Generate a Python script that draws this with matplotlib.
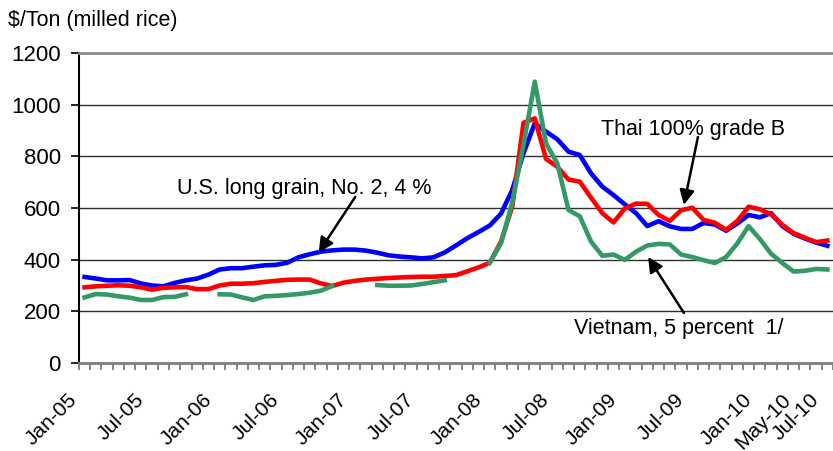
import numpy as np
import pandas as pd
import matplotlib
matplotlib.use('Agg')
import matplotlib.pyplot as plt
import matplotlib.transforms as mtransforms

# monthly rice export prices, $/ton, Jan-05 .. Jul-10
months = pd.date_range('2005-01-01', periods=67, freq='MS')

us_long_grain = [333, 327, 320, 320, 321, 308, 300, 297, 310, 320,
                 327, 342, 362, 367, 367, 373, 378, 380, 388, 409,
                 421, 431, 436, 439, 439, 435, 427, 417, 412, 409,
                 405, 409, 428, 455, 483, 507, 532, 578, 670, 812,
                 928, 896, 866, 818, 805, 734, 683, 650, 614, 580,
                 530, 549, 529, 519, 519, 542, 536, 512, 540, 573,
                 564, 580, 530, 500, 482, 466, 454]

thai_100b = [293, 297, 299, 301, 299, 293, 284, 291, 293, 294,
             286, 286, 300, 307, 307, 309, 314, 318, 322, 323,
             323, 308, 298, 311, 318, 323, 326, 329, 331, 333,
             334, 334, 337, 340, 355, 370, 388, 470, 605, 930,
             947, 790, 760, 710, 702, 640, 580, 544, 598, 617,
             616, 573, 550, 591, 601, 554, 543, 516, 550, 605,
             595, 575, 535, 503, 485, 468, 474]

nan = np.nan
vietnam_5 = [254, 267, 265, 258, 253, 244, 244, 255, 256, 266,
             nan, nan, 266, 265, 254, 244, 258, 260, 263, 267,
             272, 280, 298, nan, nan, nan, 302, 299, 299, 300,
             306, 313, 320, nan, nan, nan, 388, 463, 621, 845,
             1089, 850, 773, 592, 568, 470, 415, 420, 399, 431,
             455, 461, 459, 420, 410, 398, 387, 410, 463, 530,
             480, 423, 387, 354, 357, 364, 362]

tick_labels = ['Jan-05', 'Jul-05', 'Jan-06', 'Jul-06', 'Jan-07', 'Jul-07',
               'Jan-08', 'Jul-08', 'Jan-09', 'Jul-09', 'Jan-10', 'May-10', 'Jul-10']

plt.rcParams['font.family'] = ['Liberation Sans', 'DejaVu Sans']

fig = plt.figure(figsize=(8.33, 4.51), dpi=100)
ax = fig.add_axes([0.0948, 0.1951, 0.9052, 0.6874])

x = np.arange(len(months))
month_names = list(months.strftime('%b-%y'))
tick_pos = [month_names.index(t) for t in tick_labels]

lw = 3.3
ax.plot(x, us_long_grain, color='#0000FF', lw=lw, solid_joinstyle='round', zorder=3)
ax.plot(x, thai_100b, color='#FF0000', lw=lw, solid_joinstyle='round', zorder=4)
ax.plot(x, vietnam_5, color='#339966', lw=lw, solid_joinstyle='round', zorder=5)

ax.set_ylim(0, 1200)
ax.set_xlim(-0.5, 66.05)
ax.set_yticks(range(0, 1201, 200))
ax.yaxis.grid(True, color='#303030', lw=1.0)
ax.set_axisbelow(True)

ax.set_xticks(tick_pos, tick_labels)
ax.set_xticks(np.arange(-0.5, 67, 1), minor=True)
ax.tick_params(axis='x', which='major', length=0, pad=26, labelsize=15)
ax.tick_params(axis='x', which='minor', length=5, width=1.2, color='#707070', direction='out')
ax.tick_params(axis='y', length=6, width=1.2, pad=7, labelsize=16)
# shift rotated labels so their upper end sits left of the month, like Excel
for lab in ax.get_xticklabels():
    dx = -0.17 if lab.get_text() == 'May-10' else -0.11
    shift = mtransforms.ScaledTranslation(dx, 0.02, fig.dpi_scale_trans)
    lab.set_rotation(45)
    lab.set_ha('right')
    lab.set_va('center')
    lab.set_rotation_mode('anchor')
    lab.set_transform(lab.get_transform() + shift)

ax.spines['right'].set_visible(False)
ax.spines['top'].set_color('#8c8c8c')
ax.spines['top'].set_linewidth(2)
ax.spines['bottom'].set_color('#808080')
ax.spines['bottom'].set_linewidth(2)
ax.spines['left'].set_color('black')
ax.spines['left'].set_linewidth(1.5)

fig.text(0.0096, 0.955, r'\$/Ton (milled rice)', fontsize=15.5, va='center', ha='left')

arrow = dict(arrowstyle='-|>', color='black', lw=1.8, mutation_scale=22,
             shrinkA=0, shrinkB=0)
ax.annotate('', xy=(20.8, 428), xytext=(24.05, 643), arrowprops=arrow, zorder=6)
ax.text(8.24, 677, 'U.S. long grain, No. 2, 4 %', fontsize=15.5, ha='left', va='center')

ax.annotate('', xy=(53.25, 612), xytext=(54.5, 875), arrowprops=arrow, zorder=6)
ax.text(45.92, 902, 'Thai 100% grade B', fontsize=15.5, ha='left', va='center')

ax.annotate('', xy=(50.07, 410), xytext=(53.25, 194), arrowprops=arrow, zorder=6)
ax.text(43.45, 132, 'Vietnam, 5 percent  1/', fontsize=15.5, ha='left', va='center')

fig.savefig('out.png', dpi=100)
